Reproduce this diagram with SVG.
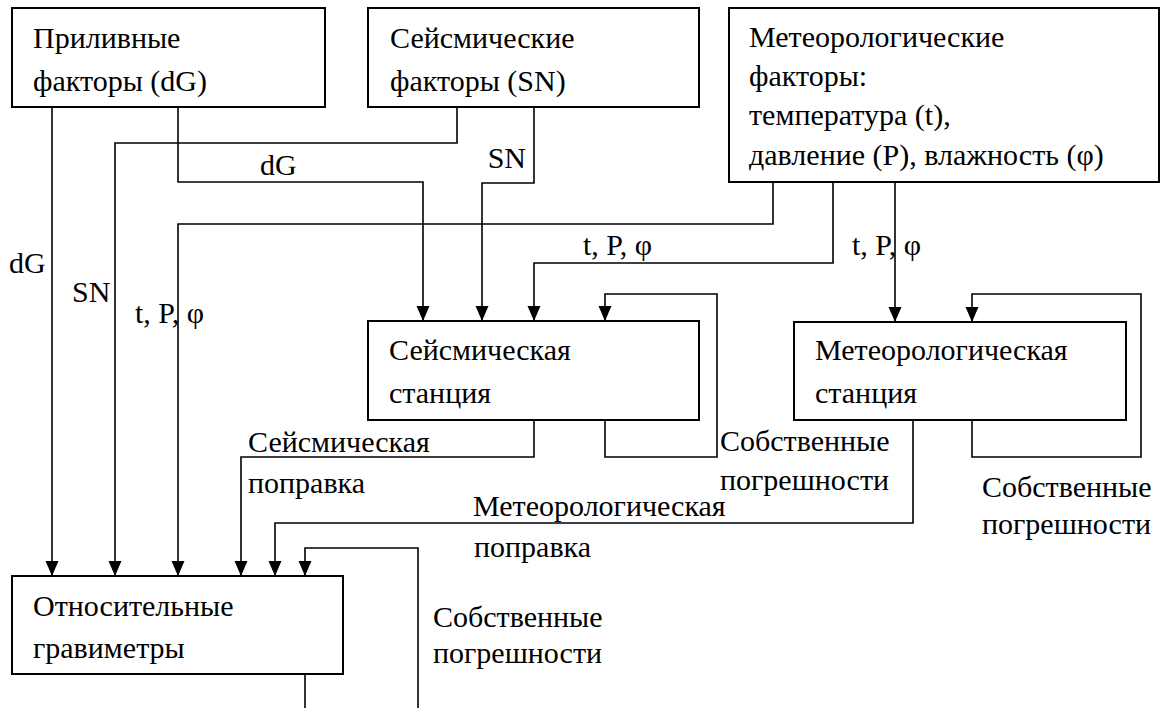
<svg xmlns="http://www.w3.org/2000/svg" width="1168" height="708" viewBox="0 0 1168 708">
<style>
.box{fill:#fff;stroke:#000;stroke-width:2}
.ln{fill:none;stroke:#000;stroke-width:1.6}
text{font-family:"Liberation Serif","Times New Roman","DejaVu Serif",serif;font-size:30px;fill:#000}
</style>
<rect width="1168" height="708" fill="#fff"/>
<g id="connectors">
<path class="ln" d="M52,107 V575"/>
<path class="ln" d="M178,107 V182 H423 V320"/>
<path class="ln" d="M457,107 V143 H115 V575"/>
<path class="ln" d="M534,107 V183 H482 V320"/>
<path class="ln" d="M773,182 V224 H178 V575"/>
<path class="ln" d="M833,182 V263 H534 V320"/>
<path class="ln" d="M895,182 V321"/>
<path class="ln" d="M605,420 V457 H717 V294 H605 V320"/>
<path class="ln" d="M534,420 V457 H241 V575"/>
<path class="ln" d="M972,420 V457 H1141 V294 H972 V321"/>
<path class="ln" d="M913,420 V523 H275 V575"/>
<path class="ln" d="M305,674 V708"/>
<path class="ln" d="M418,708 V548 H305 V575"/>
<g fill="#000">
<path d="M45.5,561 H58.5 L52,576 Z"/>
<path d="M108.5,561 H121.5 L115,576 Z"/>
<path d="M171.5,561 H184.5 L178,576 Z"/>
<path d="M234.5,561 H247.5 L241,576 Z"/>
<path d="M268.5,561 H281.5 L275,576 Z"/>
<path d="M298.5,561 H311.5 L305,576 Z"/>
<path d="M416.5,306 H429.5 L423,321 Z"/>
<path d="M475.5,306 H488.5 L482,321 Z"/>
<path d="M527.5,306 H540.5 L534,321 Z"/>
<path d="M598.5,306 H611.5 L605,321 Z"/>
<path d="M888.5,307 H901.5 L895,322 Z"/>
<path d="M965.5,307 H978.5 L972,322 Z"/>
</g>
</g>
<g id="labels">
<text x="260" y="175">dG</text>
<text x="526" y="168" text-anchor="end">SN</text>
<text x="9" y="273">dG</text>
<text x="72" y="302">SN</text>
<text x="135" y="323">t, P, φ</text>
<text x="583" y="255">t, P, φ</text>
<text x="852" y="255">t, P, φ</text>
<text x="248" y="452">Сейсмическая</text>
<text x="248" y="493">поправка</text>
<text x="720" y="451">Собственные</text>
<text x="720" y="490">погрешности</text>
<text x="473" y="516">Метеорологическая</text>
<text x="474" y="557">поправка</text>
<text x="982" y="497">Собственные</text>
<text x="982" y="534">погрешности</text>
<text x="433" y="627">Собственные</text>
<text x="433" y="663">погрешности</text>
</g>
<g id="tidal">
<rect class="box" x="12" y="8" width="313" height="99"/>
<text x="33" y="48">Приливные</text>
<text x="33" y="91">факторы (dG)</text>
</g>
<g id="seismic-factors">
<rect class="box" x="368" y="8" width="331" height="99"/>
<text x="390" y="48">Сейсмические</text>
<text x="390" y="91">факторы (SN)</text>
</g>
<g id="meteo-factors">
<rect class="box" x="729" y="8" width="430" height="174"/>
<text x="749" y="47">Метеорологические</text>
<text x="749" y="86">факторы:</text>
<text x="749" y="125">температура (t),</text>
<text x="749" y="165">давление (P), влажность (φ)</text>
</g>
<g id="seismic-station">
<rect class="box" x="368" y="321" width="331" height="99"/>
<text x="389" y="360">Сейсмическая</text>
<text x="389" y="403">станция</text>
</g>
<g id="meteo-station">
<rect class="box" x="794" y="322" width="332" height="98"/>
<text x="815" y="360">Метеорологическая</text>
<text x="815" y="403">станция</text>
</g>
<g id="gravimeters">
<rect class="box" x="12" y="576" width="331" height="98"/>
<text x="33" y="616">Относительные</text>
<text x="33" y="658">гравиметры</text>
</g>
</svg>
